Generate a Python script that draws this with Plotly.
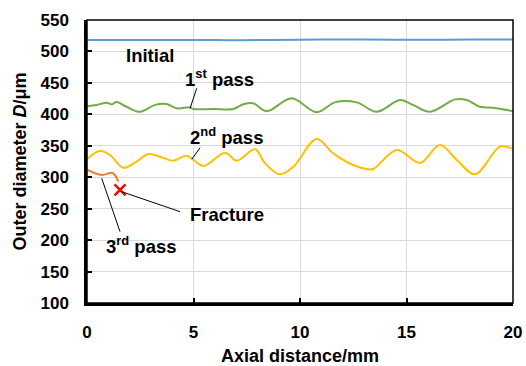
import plotly.graph_objects as go

# ---- data ----
initial_x = [0, 2, 4, 6, 8, 10, 11.5, 13, 15, 17, 18.5, 20]
initial_y = [518, 518, 518, 518, 518, 518.5, 519, 519, 518.5, 518.5, 519, 519]

pass1_x = [0, 0.45, 0.92, 1.16, 1.39, 1.86, 2.49, 3.19, 3.74, 4.21, 4.84, 4.99, 5.93, 6.87, 7.34, 7.81,
           8.44, 9.61, 10.78, 11.64, 12.66, 13.6, 14.7, 15.3, 16.1, 17.28, 17.83, 18.45, 19.07, 20]
pass1_y = [413, 415, 418.5, 416, 419.6, 412, 404, 415, 416.4, 409.6, 411, 408.5, 408.5, 408.5, 416, 417.5,
           405, 425.5, 403.3, 419, 419, 404, 422.8, 415, 404, 423.8, 422.8, 412, 410.5, 405]

pass2_x = [0, 0.61, 1.08, 1.70, 2.25, 2.88, 3.43, 4.05, 4.68, 5.46, 6.48, 7.03, 7.89, 8.36, 9.06, 9.69,
           10.78, 11.56, 12.5, 13.13, 13.44, 14.54, 15.63, 16.57, 17.36, 18.22, 19.39, 20]
pass2_y = [328.5, 342.2, 335.3, 315.2, 323.1, 336.9, 332.7, 326.3, 334.3, 317.9, 339, 326.3, 344.4, 322.1, 304.6, 316.8,
           360.8, 338, 319.4, 313, 313, 343.3, 322.7, 351.2, 327.4, 304.6, 348.6, 344.9]

pass3_x = [0, 0.69, 1.16, 1.31, 1.47]
pass3_y = [312, 303.5, 307.2, 303.5, 292.9]

fracture_x = [1.55]
fracture_y = [279.7]

y_ticks = [100, 150, 200, 250, 300, 350, 400, 450, 500, 550]
x_ticks = [0, 5, 10, 15, 20]

FONT = "Liberation Sans, Arial, sans-serif"

fig = go.Figure()
fig.add_trace(go.Scatter(x=initial_x, y=initial_y, mode="lines", line=dict(color="#5B9BD5", width=2, shape="spline")))
fig.add_trace(go.Scatter(x=pass1_x, y=pass1_y, mode="lines", line=dict(color="#70AD47", width=2, shape="spline")))
fig.add_trace(go.Scatter(x=pass2_x, y=pass2_y, mode="lines", line=dict(color="#FFC000", width=2, shape="spline")))
fig.add_trace(go.Scatter(x=pass3_x, y=pass3_y, mode="lines", line=dict(color="#ED7D31", width=2, shape="spline")))
fig.add_trace(go.Scatter(x=fracture_x, y=fracture_y, mode="markers",
                         marker=dict(symbol="x-thin", size=11, line=dict(color="#FF0000", width=2.5), color="#FF0000")))

# leader lines
leaders = [
    (5.15, 441.4, 4.84, 409.6),
    (5.31, 347.0, 4.92, 328.5),
    (1.63, 277.0, 4.37, 245.2),
    (0.69, 298.3, 1.55, 213.4),
]
for x0, y0, x1, y1 in leaders:
    fig.add_shape(type="line", x0=x0, y0=y0, x1=x1, y1=y1, xref="x", yref="y",
                  line=dict(color="black", width=1))

labels = [
    (2.96, 494, "<b>Initial</b>"),
    (6.2, 457.8, "<b>1<sup>st</sup> pass</b>"),
    (6.53, 365.6, "<b>2<sup>nd</sup> pass</b>"),
    (6.57, 240, "<b>Fracture</b>"),
    (2.58, 192.2, "<b>3<sup>rd</sup> pass</b>"),
]
for x, y, t in labels:
    fig.add_annotation(x=x, y=y, text=t, showarrow=False, xref="x", yref="y",
                       font=dict(family=FONT, size=18.5, color="black"))

# box border (top and right)
fig.add_shape(type="rect", x0=0, y0=0, x1=1, y1=1, xref="paper", yref="paper",
              line=dict(color="black", width=1.5), layer="above")

fig.update_layout(
    width=526, height=366,
    margin=dict(l=87, r=13, t=20, b=63),
    paper_bgcolor="white", plot_bgcolor="white",
    showlegend=False,
    font=dict(family=FONT, size=17, color="black"),
    xaxis=dict(range=[0, 20], tickvals=x_ticks, ticktext=[f"<b>{v}</b>" for v in x_ticks],
               showgrid=True, gridcolor="#D9D9D9", gridwidth=1,
               showline=True, linecolor="black", linewidth=2.5,
               ticks="inside", ticklen=5, tickwidth=1.5, tickcolor="black",
               ticklabelstandoff=12, automargin=False,
               zeroline=False,
               title=dict(text="<b>Axial distance/mm</b>", font=dict(size=18), standoff=10)),
    yaxis=dict(range=[100, 550], tickvals=y_ticks, ticktext=[f"<b>{v}</b>" for v in y_ticks],
               showgrid=True, gridcolor="#D9D9D9", gridwidth=1,
               showline=True, linecolor="black", linewidth=2.5,
               ticks="inside", ticklen=5, tickwidth=1.5, tickcolor="black",
               ticklabelstandoff=12, automargin=False,
               zeroline=False,
               title=dict(text="<b>Outer diameter <i>D</i>/μm</b>", font=dict(size=18), standoff=10)),
)

fig.write_html("out.html")
